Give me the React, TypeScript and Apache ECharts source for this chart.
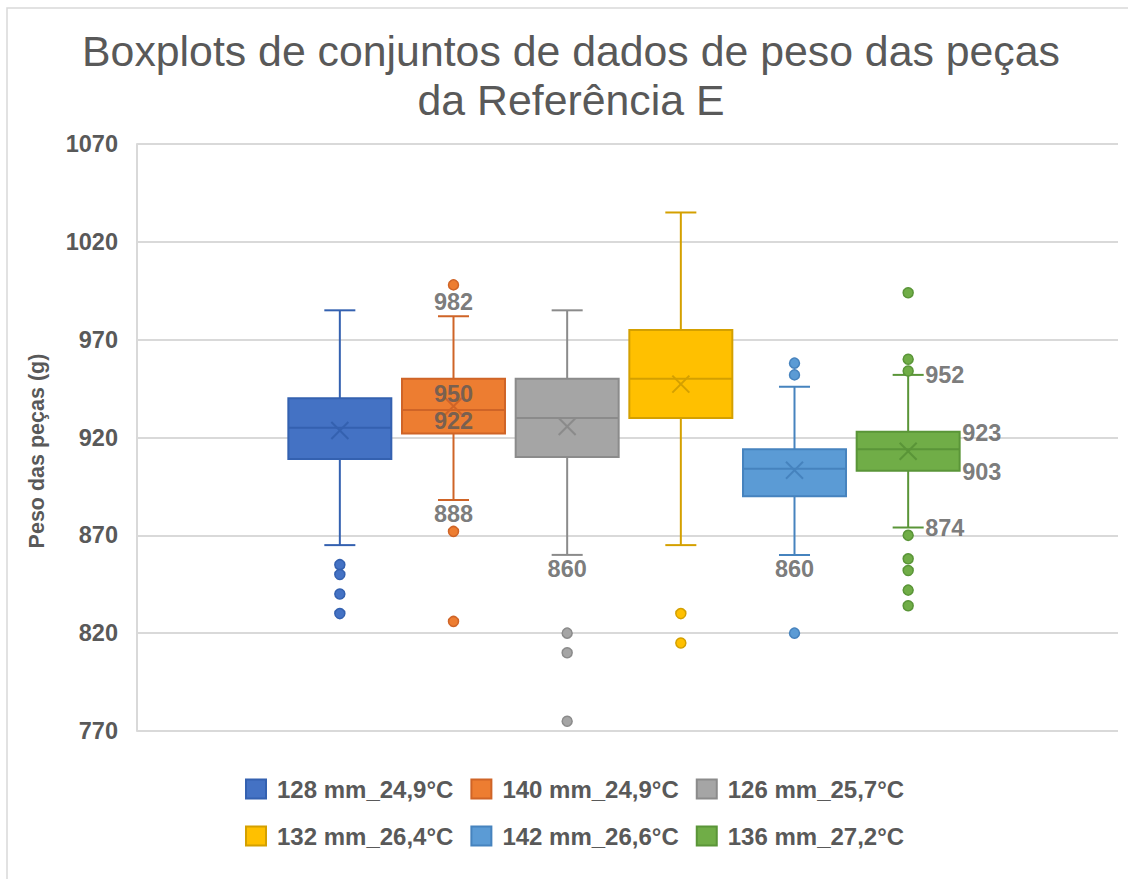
import React, { useEffect, useRef } from 'react';
import * as echarts from 'echarts';

// ---- data ----
const seriesNames = ['128 mm_24,9°C', '140 mm_24,9°C', '126 mm_25,7°C', '132 mm_26,4°C', '142 mm_26,6°C', '136 mm_27,2°C'];
const whiskerLow = [865, 888, 860, 865, 860, 874];
const q1 = [909, 922, 910, 930, 890, 903];
const median = [925, 934, 930, 950, 904, 914];
const q3 = [940, 950, 950, 975, 914, 923];
const whiskerHigh = [985, 982, 985, 1035, 946, 952];
const mean = [923.6, 936, 925.6, 947.3, 903.3, 913];
const outliers = [
  [855, 850, 840, 830],
  [998, 872, 826],
  [820, 810, 775],
  [830, 815],
  [958, 952, 820],
  [994, 960, 954, 870, 858, 852, 842, 834],
];
const yMin = 770;
const yMax = 1070;
const yInterval = 50;
const titleText = 'Boxplots de conjuntos de dados de peso das peças\nda Referência E';
const yAxisName = 'Peso das peças (g)';

// which statistics carry a data label
const dataLabels = [
  { group: 1, stat: 'whiskerHigh', place: 'above' },
  { group: 1, stat: 'q3', place: 'belowEdge' },
  { group: 1, stat: 'q1', place: 'aboveEdge' },
  { group: 1, stat: 'whiskerLow', place: 'below' },
  { group: 2, stat: 'whiskerLow', place: 'below' },
  { group: 4, stat: 'whiskerLow', place: 'below' },
  { group: 5, stat: 'whiskerHigh', place: 'rightCap' },
  { group: 5, stat: 'q3', place: 'rightBox' },
  { group: 5, stat: 'q1', place: 'rightBox' },
  { group: 5, stat: 'whiskerLow', place: 'rightCap' },
];

// ---- styles ----
const fills = ['#4472C4', '#ED7D31', '#A5A5A5', '#FFC000', '#5B9BD5', '#70AD47'];
const darks = ['#3461B0', '#CF6427', '#8B8B8B', '#D4A000', '#4683BE', '#5A9538'];
const textColor = '#595959';
const fontFamily = '"Liberation Sans", Arial, sans-serif';
const placements: Record<string, any> = {
  above: { align: 'center', offset: [0, -14] },
  below: { align: 'center', offset: [0, 14] },
  belowEdge: { align: 'center', offset: [0, 15] },
  aboveEdge: { align: 'center', offset: [0, -13] },
  rightCap: { align: 'left', offset: [17, 0] },
  rightBox: { align: 'left', offset: [54, 1] },
};

export default function App() {
  const ref = useRef<HTMLDivElement>(null);
  useEffect(() => {
    if (!ref.current) return;
    const chart = echarts.init(ref.current, null, { renderer: 'svg' });
    const stats: Record<string, number[]> = { whiskerLow, q1, median, q3, whiskerHigh };

    const boxData = seriesNames.map((_, i) => [i, whiskerLow[i], q1[i], median[i], q3[i], whiskerHigh[i], mean[i]]);

    const outlierSeries = seriesNames.map((name, i) => ({
      name,
      type: 'scatter',
      xAxisIndex: 1,
      yAxisIndex: 1,
      symbol: 'circle',
      symbolSize: 10,
      itemStyle: { color: fills[i], borderColor: darks[i], borderWidth: 1.5, opacity: 1 },
      data: outliers[i].map((v) => [i, v]),
      z: 5,
    }));

    const labelData = dataLabels.map((d) => {
      const p = placements[d.place];
      return {
        value: [d.group, stats[d.stat][d.group]],
        label: {
          show: true,
          position: 'inside',
          align: p.align,
          verticalAlign: 'middle',
          offset: p.offset,
        },
      };
    });

    const legendText = { fontSize: 24, fontWeight: 'bold', color: textColor, fontFamily, padding: [0, 0, 0, 6] };

    const option: any = {
      animation: false,
      backgroundColor: '#ffffff',
      title: {
        text: titleText,
        left: 566,
        textAlign: 'center',
        top: 21,
        textStyle: { fontSize: 42.8, fontWeight: 'normal', color: textColor, lineHeight: 49, fontFamily },
      },
      graphic: [
        {
          type: 'rect',
          shape: { x: 7, y: 8, width: 1130, height: 880 },
          style: { fill: 'none', stroke: '#d9d9d9', lineWidth: 1.5 },
          silent: true,
        },
        {
          type: 'text',
          x: 37,
          y: 451,
          rotation: Math.PI / 2,
          silent: true,
          style: {
            text: yAxisName,
            textAlign: 'center',
            textVerticalAlign: 'middle',
            fontSize: 21.5,
            fontWeight: 'bold',
            fill: textColor,
            fontFamily,
          },
        },
      ],
      legend: [
        {
          data: seriesNames.slice(0, 3),
          left: 240,
          top: 772,
          icon: 'rect',
          itemWidth: 20,
          itemHeight: 19,
          itemGap: 17,
          selectedMode: false,
          textStyle: legendText,
        },
        {
          data: seriesNames.slice(3, 6),
          left: 240,
          top: 819,
          icon: 'rect',
          itemWidth: 20,
          itemHeight: 19,
          itemGap: 17,
          selectedMode: false,
          textStyle: legendText,
        },
      ],
      grid: [
        { left: 137, right: 10, top: 144, bottom: 148 },
        { left: 283, width: 682, top: 144, bottom: 148 },
      ],
      xAxis: [
        { type: 'category', gridIndex: 0, data: [''], show: false },
        { type: 'category', gridIndex: 1, data: seriesNames, show: false },
      ],
      yAxis: [
        {
          type: 'value',
          gridIndex: 0,
          min: yMin,
          max: yMax,
          interval: yInterval,
          axisLine: { show: true, lineStyle: { color: '#d9d9d9', width: 2 } },
          axisTick: { show: false },
          axisLabel: {
            fontSize: 23.5,
            fontWeight: 'bold',
            color: textColor,
            fontFamily,
            margin: 19,
            formatter: (v: number) => String(v),
          },
          splitLine: { show: true, lineStyle: { color: '#d9d9d9', width: 2 } },
        },
        { type: 'value', gridIndex: 1, min: yMin, max: yMax, interval: yInterval, show: false },
      ],
      series: [
        {
          type: 'custom',
          name: 'boxes',
          xAxisIndex: 1,
          yAxisIndex: 1,
          data: boxData,
          encode: { x: 0, y: [1, 2, 3, 4, 5, 6] },
          z: 3,
          renderItem: (params: any, api: any) => {
            const i = api.value(0);
            const band = api.size([1, 0])[0];
            const boxW = band * 0.906;
            const capW = band * 0.273;
            const cx = api.coord([i, api.value(1)])[0];
            const yLow = api.coord([i, api.value(1)])[1];
            const yQ1 = api.coord([i, api.value(2)])[1];
            const yMed = api.coord([i, api.value(3)])[1];
            const yQ3 = api.coord([i, api.value(4)])[1];
            const yHigh = api.coord([i, api.value(5)])[1];
            const yMean = api.coord([i, api.value(6)])[1];
            const d = darks[i];
            const ls = { stroke: d, lineWidth: 2 };
            const m = 8.5;
            return {
              type: 'group',
              children: [
                { type: 'line', shape: { x1: cx, y1: yHigh, x2: cx, y2: yQ3 }, style: ls },
                { type: 'line', shape: { x1: cx, y1: yQ1, x2: cx, y2: yLow }, style: ls },
                { type: 'line', shape: { x1: cx - capW / 2, y1: yHigh, x2: cx + capW / 2, y2: yHigh }, style: ls },
                { type: 'line', shape: { x1: cx - capW / 2, y1: yLow, x2: cx + capW / 2, y2: yLow }, style: ls },
                {
                  type: 'rect',
                  shape: { x: cx - boxW / 2, y: yQ3, width: boxW, height: yQ1 - yQ3 },
                  style: { fill: fills[i], stroke: d, lineWidth: 2 },
                },
                { type: 'line', shape: { x1: cx - boxW / 2, y1: yMed, x2: cx + boxW / 2, y2: yMed }, style: ls },
                { type: 'line', shape: { x1: cx - m, y1: yMean - m, x2: cx + m, y2: yMean + m }, style: ls },
                { type: 'line', shape: { x1: cx - m, y1: yMean + m, x2: cx + m, y2: yMean - m }, style: ls },
              ],
            };
          },
        },
        ...outlierSeries,
        {
          type: 'scatter',
          name: 'labels',
          xAxisIndex: 1,
          yAxisIndex: 1,
          symbolSize: 0,
          silent: true,
          z: 10,
          label: {
            show: true,
            formatter: (p: any) => String(p.value[1]),
            fontSize: 23.5,
            fontWeight: 'bold',
            color: textColor,
            fontFamily,
          },
          data: labelData,
        },
      ],
    };
    chart.setOption(option);
    return () => chart.dispose();
  }, []);
  return <div ref={ref} style={{ position: 'fixed', left: 0, top: 0, width: 1128, height: 879, background: '#fff' }} />;
}
